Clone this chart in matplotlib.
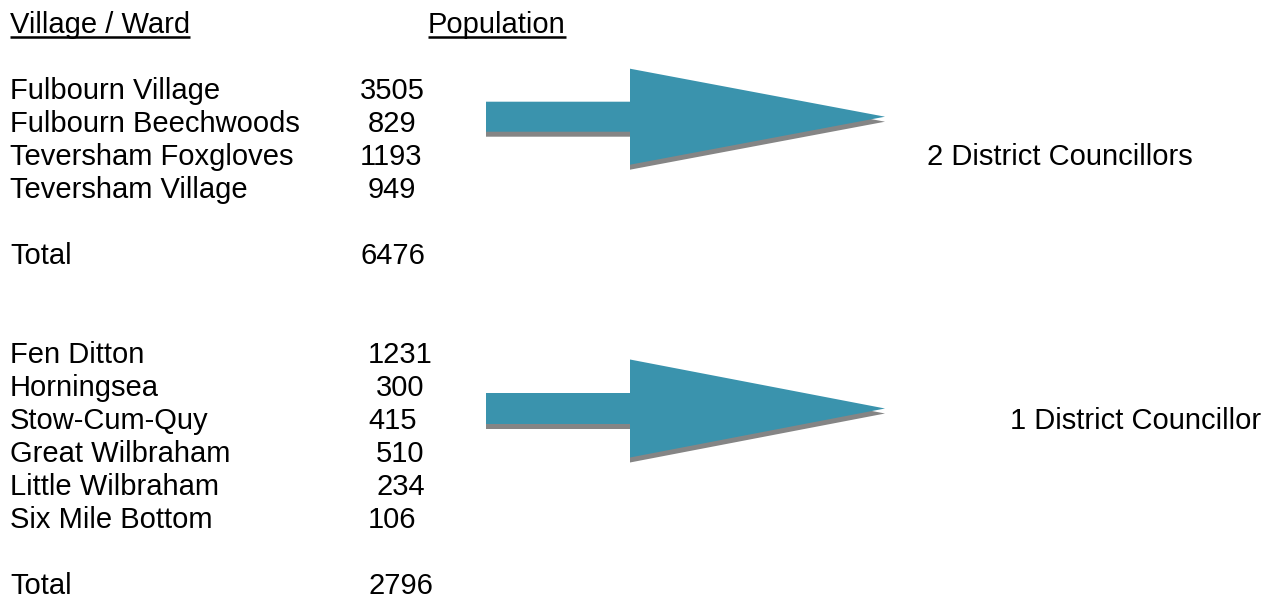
import matplotlib
matplotlib.use("Agg")
import matplotlib.pyplot as plt
from matplotlib.patches import Polygon

plt.rcParams['font.family'] = ['Liberation Sans', 'DejaVu Sans']

# data
header_name = "Village / Ward"
header_pop = "Population"

group1_names = ["Fulbourn Village", "Fulbourn Beechwoods", "Teversham Foxgloves", "Teversham Village"]
group1_pops = [3505, 829, 1193, 949]
group1_total = 6476
group1_label = "2 District Councillors"

group2_names = ["Fen Ditton", "Horningsea", "Stow-Cum-Quy", "Great Wilbraham", "Little Wilbraham", "Six Mile Bottom"]
group2_pops = [1231, 300, 415, 510, 234, 106]
group2_total = 2796
group2_label = "1 District Councillor"

# layout (pixels, y down), one text line = 33 px
fs = 21
line_h = 33
top = 33
name_x = 10
group1_lines = [2, 3, 4, 5]
group1_total_line = 7
group1_num_x = [360, 368, 360, 368]
group1_total_x = 360
group2_lines = [10, 11, 12, 13, 14, 15]
group2_total_line = 17
group2_num_x = [368, 376, 368, 376, 376, 368]
group2_total_x = 368

arrow_color = "#3a93ad"
shadow_color = "#858585"

fig = plt.figure(figsize=(12.76, 6.10), dpi=100)
ax = fig.add_axes([0, 0, 1, 1])
ax.set_xlim(0, 1276)
ax.set_ylim(610, 0)
ax.axis("off")


def line_y(i):
    return top + i * line_h


def txt(x, y, s):
    return ax.text(x, y, s, fontsize=fs, va="baseline", ha="left", color="black")


def arrow(yc, shaft_h, head_h):
    pts = [(486, yc - shaft_h / 2), (630, yc - shaft_h / 2), (630, yc - head_h / 2),
           (885, yc), (630, yc + head_h / 2), (630, yc + shaft_h / 2), (486, yc + shaft_h / 2)]
    shadow = [(x, y + 5) for x, y in pts]
    ax.add_patch(Polygon(shadow, closed=True, facecolor=shadow_color, edgecolor="none"))
    ax.add_patch(Polygon(pts, closed=True, facecolor=arrow_color, edgecolor="none"))


# headers
h1 = txt(name_x, line_y(0), header_name)
h2 = txt(428, line_y(0), header_pop)

for name, pop, ln, nx in zip(group1_names, group1_pops, group1_lines, group1_num_x):
    txt(name_x, line_y(ln), name)
    txt(nx, line_y(ln), str(pop))
txt(name_x, line_y(group1_total_line), "Total")
txt(group1_total_x, line_y(group1_total_line), str(group1_total))
txt(927, line_y(4), group1_label)

for name, pop, ln, nx in zip(group2_names, group2_pops, group2_lines, group2_num_x):
    txt(name_x, line_y(ln), name)
    txt(nx, line_y(ln), str(pop))
txt(name_x, line_y(group2_total_line), "Total")
txt(group2_total_x, line_y(group2_total_line), str(group2_total))
txt(1010, line_y(12), group2_label)

arrow(116.7, 30, 96)
arrow(408.5, 31, 98)

# underline the headers
fig.canvas.draw()
r = fig.canvas.get_renderer()
inv = ax.transData.inverted()
for t in (h1, h2):
    bb = t.get_window_extent(renderer=r)
    x0, _ = inv.transform((bb.x0, bb.y0))
    x1, _ = inv.transform((bb.x1, bb.y0))
    ax.plot([x0, x1], [line_y(0) + 4, line_y(0) + 4], color="black", lw=1.8, solid_capstyle="butt")

fig.savefig("out.png", dpi=100)
